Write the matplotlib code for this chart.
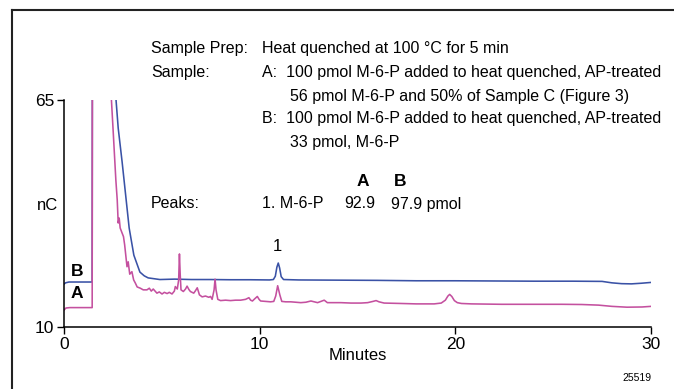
import matplotlib
matplotlib.use("Agg")
import matplotlib.pyplot as plt
from matplotlib.lines import Line2D

# --- data (minutes, nC) -----------------------------------------------------
# trace B (blue), off-scale values are clipped by the axes
time_b = [0.0, 0.08, 0.25, 1.0, 1.44, 1.46, 2.5, 2.64, 2.77, 2.97, 3.15, 3.33,
          3.57, 3.88, 4.10, 4.30, 4.9, 5.66, 6.5, 7.5, 8.5, 9.5, 10.5, 10.70,
          10.80, 10.88, 10.95, 11.02, 11.10, 11.22, 12.0, 14.0, 16.0, 18.0,
          20.0, 22.0, 24.0, 26.0, 27.5, 28.0, 28.5, 29.0, 29.5, 30.0]
signal_b = [20.4, 20.7, 20.9, 20.9, 20.9, 120, 120, 66.2, 58.2, 50.0, 42.0, 34.0,
            27.4, 23.3, 22.4, 21.9, 21.5, 21.6, 21.5, 21.5, 21.45, 21.45, 21.4, 21.5,
            22.3, 24.5, 25.5, 24.3, 22.2, 21.5, 21.4, 21.35, 21.3, 21.2,
            21.2, 21.15, 21.1, 21.1, 21.05, 20.7, 20.5, 20.45, 20.6, 20.8]

# trace A (magenta)
time_a = [0.0, 0.1, 0.3, 1.0, 1.44, 1.46, 2.3, 2.41, 2.51, 2.65, 2.72, 2.77, 2.82,
          2.87, 2.95, 3.04, 3.10, 3.22, 3.28, 3.36, 3.47, 3.56, 3.64, 3.74, 3.90,
          4.05, 4.24, 4.36, 4.46, 4.56, 4.75, 4.87, 5.01, 5.13, 5.27, 5.38, 5.52,
          5.64, 5.69, 5.79, 5.86, 5.90, 5.94, 5.98, 6.10, 6.21, 6.29, 6.38, 6.46,
          6.63, 6.72, 6.81, 6.87, 6.92, 7.06, 7.23, 7.40, 7.49, 7.57, 7.67, 7.72,
          7.77, 7.86, 8.00, 8.26, 8.51, 8.77, 9.03, 9.28, 9.45, 9.54, 9.63, 9.74,
          9.88, 9.97, 10.05, 10.31, 10.56, 10.72, 10.82, 10.92, 11.03, 11.13, 11.33,
          11.59, 12.10, 12.36, 12.62, 12.96, 13.13, 13.30, 13.46, 13.64, 14.15,
          14.67, 15.18, 15.52, 15.79, 15.95, 16.10, 16.36, 17.23, 18.0, 18.92,
          19.28, 19.49, 19.62, 19.71, 19.82, 19.95, 20.10, 20.31, 20.82, 22.36,
          23.9, 25.44, 26.46, 27.32, 28.0, 28.77, 29.54, 30.0]
signal_a = [14.1, 14.6, 14.7, 14.7, 14.7, 120, 120, 66.2, 57.7, 45.6, 40.8, 35.2, 36.4,
            34.0, 33.0, 31.9, 29.9, 24.6, 25.8, 22.8, 23.4, 21.4, 20.7, 19.7, 19.4,
            19.0, 19.0, 19.4, 18.7, 19.2, 18.2, 18.5, 18.0, 18.4, 18.1, 18.4, 18.0,
            18.7, 19.8, 19.2, 21.4, 27.7, 22.6, 19.0, 18.6, 19.2, 19.9, 19.1, 18.6,
            18.2, 18.8, 19.5, 18.6, 17.8, 17.3, 17.5, 17.2, 17.4, 16.7, 19.0, 21.6,
            19.0, 16.7, 16.4, 16.5, 16.4, 16.5, 16.5, 16.7, 17.1, 16.5, 16.3, 16.8,
            17.4, 16.7, 16.3, 16.2, 16.1, 16.2, 17.5, 20.0, 17.8, 16.2, 16.1,
            16.1, 15.9, 16.0, 16.3, 15.9, 16.2, 16.5, 15.9, 15.9, 15.9,
            15.8, 15.8, 15.9, 16.2, 16.4, 16.1, 15.8, 15.7, 15.6, 15.6,
            15.8, 16.5, 17.5, 17.9, 17.4, 16.4, 15.9, 15.7, 15.6, 15.5,
            15.5, 15.5, 15.45, 15.3, 15.0, 14.8, 14.85, 15.0]

x_ticks = [0, 10, 20, 30]
y_ticks = [10, 65]

W, H = 674, 389
plt.rcParams['font.family'] = ['Liberation Sans', 'DejaVu Sans']

fig = plt.figure(figsize=(W / 100, H / 100), dpi=100)
ax = fig.add_axes([64 / W, 1 - 327 / H, (651 - 64) / W, (327 - 100) / H])

ax.plot(time_b, signal_b, color='#3a52a6', lw=1.15)
ax.plot(time_a, signal_a, color='#c4509f', lw=1.15)

ax.set_xlim(0, 30)
ax.set_ylim(10, 65)
ax.set_xticks(x_ticks)
ax.set_yticks(y_ticks)
ax.tick_params(direction='out', length=5, width=1, labelsize=12.5, pad=2)
for s in ('top', 'right'):
    ax.spines[s].set_visible(False)
for s in ('left', 'bottom'):
    ax.spines[s].set_linewidth(1.1)


def ptext(x, y, s, **kw):
    # place text by pixel coords of the reference picture
    kw.setdefault('fontsize', 11.5)
    kw.setdefault('va', 'center')
    fig.text(x / W, 1 - y / H, s, **kw)


# frame lines (top and left)
fig.add_artist(Line2D([12 / W, 12 / W], [0, 1 - 10 / H], color='#222222', lw=1.5))
fig.add_artist(Line2D([12 / W, 1], [1 - 10 / H, 1 - 10 / H], color='#222222', lw=1.5))

# annotation block
ptext(151, 49, "Sample Prep:")
ptext(262, 49, "Heat quenched at 100 \u00b0C for 5 min")
ptext(151, 72, "Sample:")
ptext(262, 72, "A:  100 pmol M-6-P added to heat quenched, AP-treated")
ptext(290, 96, "56 pmol M-6-P and 50% of Sample C (Figure 3)")
ptext(262, 119, "B:  100 pmol M-6-P added to heat quenched, AP-treated")
ptext(290, 143, "33 pmol, M-6-P")
ptext(363, 181, "A", ha='center', fontweight='bold', fontsize=12.5)
ptext(400, 181, "B", ha='center', fontweight='bold', fontsize=12.5)
ptext(151, 204, "Peaks:")
ptext(262, 204, "1. M-6-P")
ptext(344, 204, "92.9")
ptext(391, 204, "97.9 pmol")

ptext(277, 247, "1", fontsize=12, ha='center')
ptext(77, 271, "B", ha='center', fontweight='bold', fontsize=12.5)
ptext(77, 293, "A", ha='center', fontweight='bold', fontsize=12.5)
ptext(58, 205, "nC", ha='right', fontsize=12)
ptext(358, 356, "Minutes", ha='center', fontsize=12)
ptext(637, 378, "25519", ha='center', fontsize=7.5)

fig.savefig("out.png", dpi=100)
